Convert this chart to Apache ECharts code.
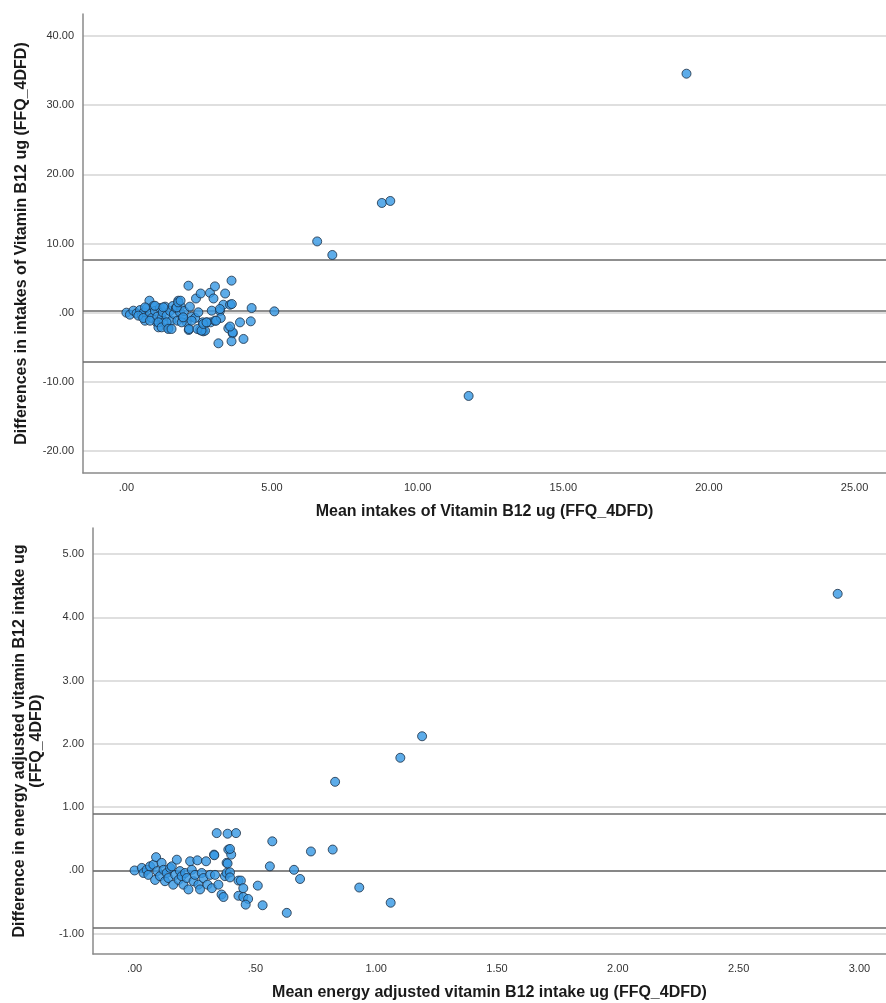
<!DOCTYPE html>
<html>
<head>
<meta charset="utf-8">
<script src="https://cdn.jsdelivr.net/npm/echarts@6/dist/echarts.min.js"></script>
<style>
html,body{margin:0;padding:0;background:#fff;}
#chart{width:886px;height:1003px;}
</style>
</head>
<body>
<div id="chart"></div>
<script>
// ---- Top chart: raw intakes (mean vs difference) ----
const topMean = [0.0,0.12,0.24,0.35,0.47,0.53,0.60,0.64,0.70,0.79,0.81,0.87,0.93,0.98,1.04,1.06,1.10,1.15,1.21,1.25,1.29,1.33,1.38,1.44,1.50,1.55,1.59,1.63,1.70,1.75,1.78,1.84,1.86,1.93,1.98,2.07,2.13,2.14,2.18,2.24,2.36,2.39,2.47,2.53,2.55,2.62,2.64,2.70,2.76,2.87,2.89,2.99,3.04,3.04,3.16,3.21,3.24,3.33,3.39,3.50,3.56,3.61,3.65,3.61,3.90,4.02,4.27,4.30,5.08,
  0.41,0.58,0.64,0.81,0.98,1.10,1.21,1.27,1.38,1.44,1.55,1.73,1.78,1.86,1.90,1.95,2.15,2.24,2.44,2.58,2.64,2.75,2.93,3.08,3.21,3.62,3.65,3.56,
  6.55,7.07,8.77,9.06,11.75,19.23];
const topDiff = [0.0,-0.29,0.29,-0.10,0.38,-0.43,0.05,-1.16,0.67,1.73,-0.19,-0.77,0.96,0.24,-1.40,-0.58,-2.12,0.67,-0.77,0.05,-1.40,0.87,-0.43,-2.22,0.24,-1.16,0.96,-0.19,0.67,-1.16,1.73,0.05,0.96,-0.77,0.24,-1.40,3.90,-2.50,0.87,-0.58,-0.77,2.05,0.05,-2.50,2.77,-1.40,-2.70,-2.60,-1.40,2.87,-1.40,2.05,3.80,-1.16,-4.43,0.24,-0.77,1.15,2.77,-2.27,1.15,4.63,-3.00,-4.14,-1.40,-3.80,-1.25,0.67,0.19,
  -0.43,-0.77,0.77,-1.16,1.00,-1.40,-2.12,0.77,-1.40,-2.36,-2.36,0.77,1.49,1.73,-1.40,-0.67,-2.36,-1.16,-2.36,-2.60,-1.63,-1.40,0.29,-1.16,0.53,1.25,-2.85,-2.00,
  10.30,8.34,15.86,16.15,-12.04,34.55];
const topRefLines = [7.66, 0.29, -7.08];
const topXTicks = [0, 5, 10, 15, 20, 25];
const topYTicks = [-20, -10, 0, 10, 20, 30, 40];

// ---- Bottom chart: energy adjusted intakes ----
const botMean = [0.0,0.03,0.037,0.05,0.057,0.064,0.078,0.085,0.089,0.094,0.105,0.112,0.12,0.126,0.133,0.14,0.147,0.154,0.16,0.168,0.175,0.182,0.188,0.195,0.202,0.209,0.216,0.223,0.23,0.237,0.244,0.25,0.26,0.264,0.271,0.278,0.285,0.296,0.302,0.313,0.32,0.329,0.333,0.347,0.36,0.368,0.374,0.381,0.381,0.388,0.43,0.43,0.34,0.385,0.42,0.33,0.40,0.385,
  0.57,0.73,0.82,0.56,0.66,0.685,0.44,0.51,0.45,0.45,0.47,0.46,0.53,0.63,0.93,1.06,0.395,0.395,0.395,
  0.83,1.10,1.19,2.91];
const botDiff = [0.0,0.04,-0.04,0.01,-0.07,0.065,0.09,-0.15,0.21,-0.01,-0.09,0.12,0.01,-0.17,-0.04,-0.12,0.04,0.065,-0.225,-0.07,0.17,-0.15,-0.01,-0.09,-0.225,-0.04,-0.12,-0.30,0.145,0.01,-0.17,-0.07,0.16,-0.225,-0.30,-0.04,-0.12,0.145,-0.225,-0.07,-0.28,0.25,-0.07,-0.225,-0.38,-0.42,-0.09,-0.04,0.12,0.33,-0.16,-0.40,0.59,0.58,0.59,0.24,0.25,0.11,
  0.46,0.30,0.33,0.065,0.01,-0.135,-0.16,-0.24,-0.28,-0.42,-0.45,-0.54,-0.55,-0.67,-0.27,-0.51,0.34,-0.03,-0.11,
  1.40,1.78,2.12,4.37];
const botRefLines = [0.90, 0.0, -0.905];
const botXTicks = [0, 0.5, 1, 1.5, 2, 2.5, 3];
const botYTicks = [-1, 0, 1, 2, 3, 4, 5];

const fmt = v => {
  let s = Math.abs(v).toFixed(2);
  if (s.startsWith('0.')) s = s.slice(1);
  return (v < 0 ? '-' : '') + s;
};
const zip = (a, b) => a.map((v, i) => [v, b[i]]);

const FONT = "'Liberation Sans', Arial, sans-serif";
const gridLine = { show: true, lineStyle: { color: '#d4d4d4', width: 1.5 } };
const axisLine = { show: true, onZero: false, lineStyle: { color: '#8a8a8a', width: 1.5 } };
const labelStyle = { color: '#333', fontSize: 11, fontFamily: FONT, formatter: fmt, margin: 9 };
const nameStyle = { color: '#1a1a1a', fontSize: 16, fontWeight: 'bold', fontFamily: FONT, lineHeight: 17 };

function valAxis(gridIndex, min, max, ticks, extra) {
  return Object.assign({
    type: 'value', gridIndex, min, max,
    axisLine, axisTick: { show: false, customValues: ticks },
    axisLabel: Object.assign({ customValues: ticks }, labelStyle),
    splitLine: gridLine,
    nameTextStyle: nameStyle, nameLocation: 'middle'
  }, extra);
}

const pointStyle = { color: '#3597e3', borderColor: '#1b2d42', borderWidth: 1 };
const refLineStyle = { color: '#6a6a6a', width: 1.6, type: 'solid' };

function scatter(idx, xs, ys, lines) {
  return {
    type: 'scatter', xAxisIndex: idx, yAxisIndex: idx,
    data: zip(xs, ys), symbolSize: 9, itemStyle: pointStyle,
    z: 5, silent: true,
    markLine: {
      silent: true, symbol: ['none', 'none'], label: { show: false },
      lineStyle: refLineStyle, animation: false,
      data: lines.map(v => ({ yAxis: v }))
    }
  };
}

const chart = echarts.init(document.getElementById('chart'), null, { renderer: 'canvas' });
chart.setOption({
  animation: false,
  backgroundColor: '#fff',
  grid: [
    { left: 83, top: 14, right: 0, height: 459, containLabel: false, outerBoundsMode: 'none' },
    { left: 93, top: 528, right: 0, height: 426, containLabel: false, outerBoundsMode: 'none' }
  ],
  xAxis: [
    valAxis(0, -1.49, 26.08, topXTicks, { name: 'Mean intakes of Vitamin B12 ug (FFQ_4DFD)', nameGap: 30, splitLine: { show: false } }),
    valAxis(1, -0.172, 3.11, botXTicks, { name: 'Mean energy adjusted vitamin B12 intake ug (FFQ_4DFD)', nameGap: 30, splitLine: { show: false } })
  ],
  yAxis: [
    valAxis(0, -23.18, 43.18, topYTicks, { name: 'Differences in intakes of Vitamin B12 ug (FFQ_4DFD)', nameGap: 53 }),
    valAxis(1, -1.32, 5.41, botYTicks, { name: 'Difference in energy adjusted vitamin B12 intake ug\n(FFQ_4DFD)', nameGap: 48 })
  ],
  series: [
    scatter(0, topMean, topDiff, topRefLines),
    scatter(1, botMean, botDiff, botRefLines)
  ]
});
</script>
</body>
</html>
